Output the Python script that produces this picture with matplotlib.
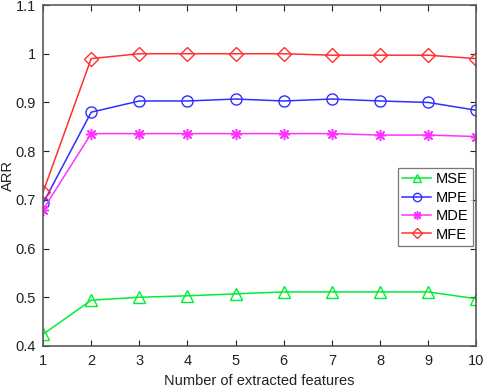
import numpy as np
import matplotlib
matplotlib.use("Agg")
import matplotlib.pyplot as plt

plt.rcParams['font.family'] = ['Liberation Sans', 'DejaVu Sans']

features = [1, 2, 3, 4, 5, 6, 7, 8, 9, 10]
mse = [0.424, 0.494, 0.500, 0.503, 0.507, 0.511, 0.511, 0.511, 0.511, 0.497]
mpe = [0.693, 0.880, 0.903, 0.903, 0.907, 0.903, 0.907, 0.903, 0.900, 0.884]
mde = [0.680, 0.836, 0.836, 0.836, 0.836, 0.836, 0.836, 0.833, 0.833, 0.830]
mfe = [0.716, 0.990, 1.000, 1.000, 1.000, 1.000, 0.997, 0.997, 0.997, 0.990]

fig = plt.figure(figsize=(4.84, 3.87), dpi=100)
ax = fig.add_axes([0.089, 0.106, 0.895, 0.881])

ax.plot(features, mse, color="#00ee33", marker="^", mfc="none", ms=8, lw=1.1, label="MSE")
ax.plot(features, mpe, color="#2f2fff", marker="o", mfc="none", ms=8, lw=1.1, label="MPE")
# matlab style asterisk
ax.plot(features, mde, color="#ff33ff", marker=(8, 2, 0), ms=8, mew=1.1, lw=1.1, label="MDE")
ax.plot(features, mfe, color="#ff3030", marker="D", mfc="none", ms=7, lw=1.1, label="MFE")

ax.set_xlim(1, 10)
ax.set_ylim(0.4, 1.1)
ax.set_xticks(features)
ax.set_yticks([0.4, 0.5, 0.6, 0.7, 0.8, 0.9, 1.0, 1.1])
ax.set_yticklabels(["0.4", "0.5", "0.6", "0.7", "0.8", "0.9", "1", "1.1"])
ax.tick_params(direction="in", top=True, right=True, labelsize=10.5, colors="#222222", length=4)
ax.tick_params(axis="x", pad=6)
ax.tick_params(axis="y", pad=5)
for s in ax.spines.values():
    s.set_color("#5a5a5a")
    s.set_linewidth(1.2)

ax.set_xlabel("Number of extracted features", fontsize=10.5, color="#222222")
ax.set_ylabel("ARR", fontsize=10.5, color="#222222")
ax.xaxis.set_label_coords(0.5, -0.082)
ax.yaxis.set_label_coords(-0.066, 0.5)

leg = ax.legend(loc="upper right", bbox_to_anchor=(0.992, 0.522), fontsize=10.5, fancybox=False,
                edgecolor="#555555", handlelength=2.0, borderpad=0.3, labelspacing=0.3,
                handletextpad=0.3, borderaxespad=0.0, markerscale=0.75)
leg.get_frame().set_linewidth(0.9)

fig.savefig("out.png", dpi=100)
